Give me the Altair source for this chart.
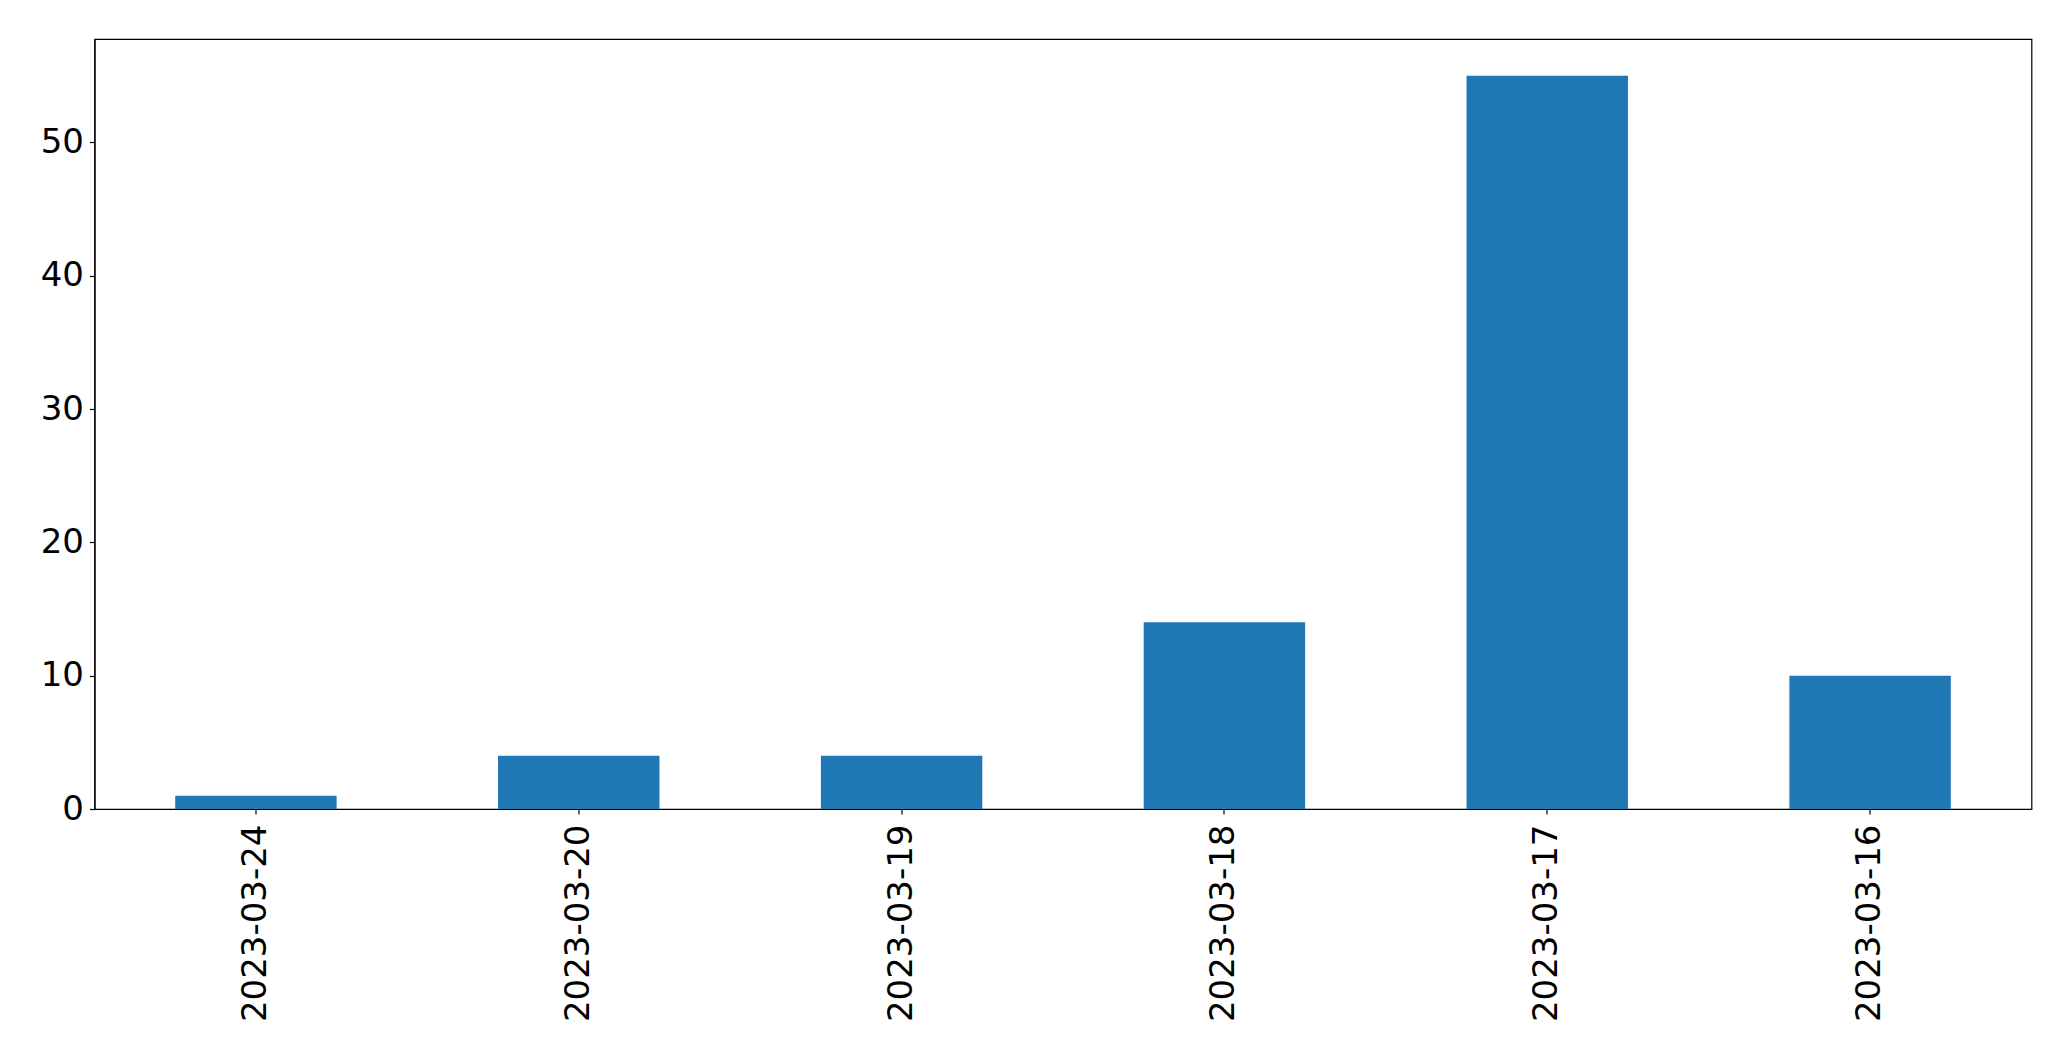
import altair as alt
import pandas as pd

dates = ["2023-03-24", "2023-03-20", "2023-03-19", "2023-03-18", "2023-03-17", "2023-03-16"]
counts = [1, 4, 4, 14, 55, 10]

df = pd.DataFrame({"date": dates, "count": counts})

chart = alt.Chart(df).mark_bar(color="#1f77b4").encode(
    x=alt.X("date:N", sort=dates, title=None,
            scale=alt.Scale(paddingInner=0.5, paddingOuter=0.25),
            axis=alt.Axis(labelAngle=-90, labelFont="DejaVu Sans", labelFontSize=34,
                          labelColor="black", domainColor="black", tickColor="black",
                          tickSize=5, labelPadding=10, labelAlign="right", labelBaseline="middle",
                          labelLimit=0)),
    y=alt.Y("count:Q", title=None,
            scale=alt.Scale(domain=[0, 57.75], nice=False),
            axis=alt.Axis(values=[0, 10, 20, 30, 40, 50], grid=False, labelFont="DejaVu Sans",
                          labelFontSize=34, labelColor="black", domainColor="black",
                          tickColor="black", tickSize=5, labelPadding=6)),
).properties(
    width=1937, height=770,
    autosize=alt.AutoSizeParams(type="none"),
    padding={"left": 86.5, "top": 31, "right": 20, "bottom": 230},
).configure_view(stroke="black", strokeWidth=1.2).configure_axis(domainWidth=1.2, tickWidth=1.2)

chart.save("out.html", embed_options={"renderer": "svg", "actions": False})
